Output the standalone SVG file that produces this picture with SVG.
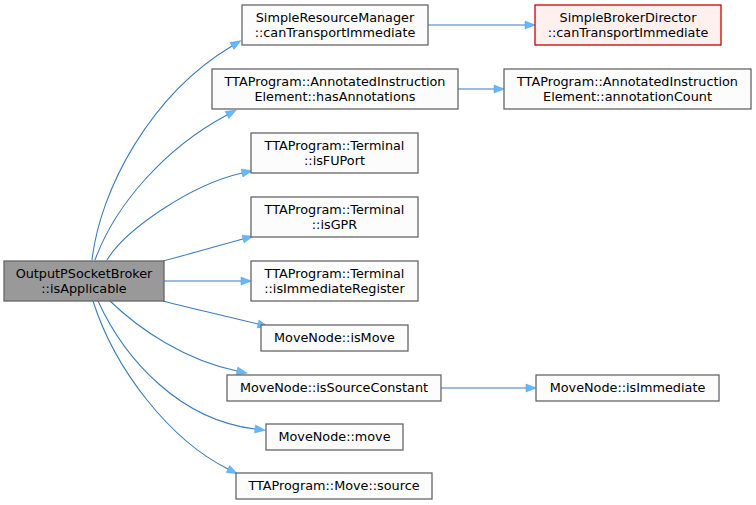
<svg xmlns="http://www.w3.org/2000/svg" width="756" height="505" viewBox="0 0 756 505">
  <style>
    .box { fill: #fbfcfb; stroke: #666666; stroke-width: 1.3; }
    .root { fill: #999999; stroke: #666666; stroke-width: 1.3; }
    .ext { fill: #fff0f0; stroke: #cc0000; stroke-width: 1.3; }
    text { font-family: "DejaVu Sans", "Noto Sans", sans-serif; font-size: 12.8px; fill: #000000; text-anchor: middle; }
    .edge { fill: none; stroke: #3f7db8; stroke-width: 1.1; marker-end: url(#arrow); }
  </style>
  <defs>
    <marker id="arrow" markerUnits="userSpaceOnUse" markerWidth="14" markerHeight="10" refX="0" refY="4" orient="auto" overflow="visible">
      <path d="M0,0 L10.5,4 L0,8 Z" fill="#63b8ff" stroke="#4a90d0" stroke-width="0.4"/>
    </marker>
  </defs>

  <!-- call edges -->
  <g id="edges">
    <path class="edge" d="M92,260 C100,190 150,95 232,46"/>
    <path class="edge" d="M95,260 C115,205 165,148 227,115"/>
    <path class="edge" d="M107,260 C125,230 190,185 242,173"/>
    <path class="edge" d="M163,261 C190,254 220,245 243,239"/>
    <path class="edge" d="M164,281 L241,281"/>
    <path class="edge" d="M163,301 C190,308 225,316 258,324"/>
    <path class="edge" d="M110,301 C140,330 185,360 237,371"/>
    <path class="edge" d="M98,301 C125,360 180,420 255,429"/>
    <path class="edge" d="M93,301 C115,370 170,440 228,469"/>
    <path class="edge" d="M428,25 L525,25"/>
    <path class="edge" d="M458,89 L494,89"/>
    <path class="edge" d="M441,388 L526,388"/>
  </g>

  <g id="node-root">
    <rect class="root" x="4" y="261" width="160" height="40"/>
    <text x="84" y="278">OutputPSocketBroker</text>
    <text x="84" y="292.5">::isApplicable</text>
  </g>

  <g id="node-srm-canTransportImmediate">
    <rect class="box" x="242" y="5" width="186" height="40"/>
    <text x="335" y="22">SimpleResourceManager</text>
    <text x="335" y="36.5">::canTransportImmediate</text>
  </g>

  <g id="node-sbd-canTransportImmediate">
    <rect class="ext" x="535" y="5" width="186" height="40"/>
    <text x="628" y="22">SimpleBrokerDirector</text>
    <text x="628" y="36.5">::canTransportImmediate</text>
  </g>

  <g id="node-hasAnnotations">
    <rect class="box" x="212" y="69" width="246" height="40"/>
    <text x="335" y="86">TTAProgram::AnnotatedInstruction</text>
    <text x="335" y="100.5">Element::hasAnnotations</text>
  </g>

  <g id="node-annotationCount">
    <rect class="box" x="504" y="69" width="247" height="40"/>
    <text x="627.5" y="86">TTAProgram::AnnotatedInstruction</text>
    <text x="627.5" y="100.5">Element::annotationCount</text>
  </g>

  <g id="node-isFUPort">
    <rect class="box" x="251" y="133" width="167" height="40"/>
    <text x="334.5" y="150">TTAProgram::Terminal</text>
    <text x="334.5" y="164.5">::isFUPort</text>
  </g>

  <g id="node-isGPR">
    <rect class="box" x="251" y="197" width="167" height="40"/>
    <text x="334.5" y="214">TTAProgram::Terminal</text>
    <text x="334.5" y="228.5">::isGPR</text>
  </g>

  <g id="node-isImmediateRegister">
    <rect class="box" x="251" y="261" width="167" height="40"/>
    <text x="334.5" y="278">TTAProgram::Terminal</text>
    <text x="334.5" y="292.5">::isImmediateRegister</text>
  </g>

  <g id="node-isMove">
    <rect class="box" x="261" y="325" width="147" height="26"/>
    <text x="334.5" y="342">MoveNode::isMove</text>
  </g>

  <g id="node-isSourceConstant">
    <rect class="box" x="227" y="375" width="214" height="26"/>
    <text x="334" y="392">MoveNode::isSourceConstant</text>
  </g>

  <g id="node-isImmediate">
    <rect class="box" x="536" y="375" width="183" height="26"/>
    <text x="627.5" y="392">MoveNode::isImmediate</text>
  </g>

  <g id="node-move">
    <rect class="box" x="266" y="424" width="137" height="26"/>
    <text x="334.5" y="441">MoveNode::move</text>
  </g>

  <g id="node-source">
    <rect class="box" x="236" y="473" width="196" height="26"/>
    <text x="334" y="490">TTAProgram::Move::source</text>
  </g>
</svg>
